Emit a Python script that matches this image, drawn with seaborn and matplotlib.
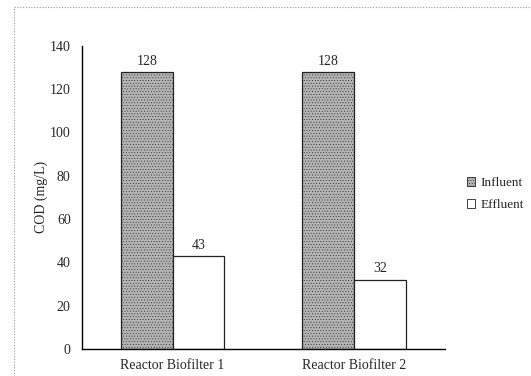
import matplotlib
matplotlib.use("Agg")
import matplotlib.pyplot as plt
import matplotlib.patches as mpatches
import seaborn as sns
import pandas as pd

categories = ["Reactor Biofilter 1", "Reactor Biofilter 2"]
influent = [128, 128]
effluent = [43, 32]
series_names = ["Influent", "Effluent"]
y_ticks = [0, 20, 40, 60, 80, 100, 120, 140]

sns.set_theme(style="white")
plt.rcParams["font.family"] = ["Liberation Serif", "DejaVu Serif"]
plt.rcParams["hatch.linewidth"] = 0.3

df = pd.DataFrame({
    "reactor": categories * 2,
    "series": [series_names[0]] * len(categories) + [series_names[1]] * len(categories),
    "cod": influent + effluent,
})

fig = plt.figure(figsize=(5.31, 3.76), dpi=100)
ax = fig.add_axes([0.154, 0.072, 0.684, 0.806])

sns.barplot(data=df, x="reactor", y="cod", hue="series", hue_order=series_names,
            palette=["#b4b4b4", "white"], width=0.57, gap=0,
            edgecolor="#222222", linewidth=0.9, legend=False, ax=ax)

# stippled fill for the influent bars
for patch in ax.containers[0]:
    patch.set_hatch("......")

for cont in ax.containers:
    ax.bar_label(cont, fmt="%d", padding=3, fontsize=10)

ax.set_ylim(0, 140)
ax.set_yticks(y_ticks)
ax.set_xlim(-0.5, 1.5)
ax.set_xticks([0, 1])
ax.set_xticklabels(categories, fontsize=10)
ax.set_xticks([0.5], minor=True)
ax.tick_params(axis="x", which="major", length=0, pad=7)
ax.tick_params(axis="x", which="minor", length=4, width=0.8, direction="out", color="black")
ax.tick_params(axis="y", length=4, width=0.8, direction="out", color="black", labelsize=10, pad=4)
ax.set_xlabel("")
ax.set_ylabel("COD (mg/L)", fontsize=10, labelpad=1)
for side in ["top", "right"]:
    ax.spines[side].set_visible(False)
for side in ["left", "bottom"]:
    ax.spines[side].set_color("black")
    ax.spines[side].set_linewidth(1.0)

handles = [
    mpatches.Patch(facecolor="#b4b4b4", edgecolor="#222222", hatch="......", linewidth=0.6),
    mpatches.Patch(facecolor="white", edgecolor="#222222", linewidth=0.6),
]
fig.legend(handles, series_names, loc="center left", bbox_to_anchor=(0.858, 0.484),
           frameon=False, fontsize=9.5, handlelength=0.6, handleheight=0.6,
           handletextpad=0.4, labelspacing=0.75)

# dotted frame around the figure
frame = mpatches.Rectangle((14 / 531, -0.05), 1.05, 1 - 7 / 376 + 0.05,
                           transform=fig.transFigure, fill=False,
                           edgecolor="#9a9a9a", linestyle=(0, (1, 1.5)), linewidth=0.8)
fig.patches.append(frame)

fig.savefig("out.png", dpi=100)
